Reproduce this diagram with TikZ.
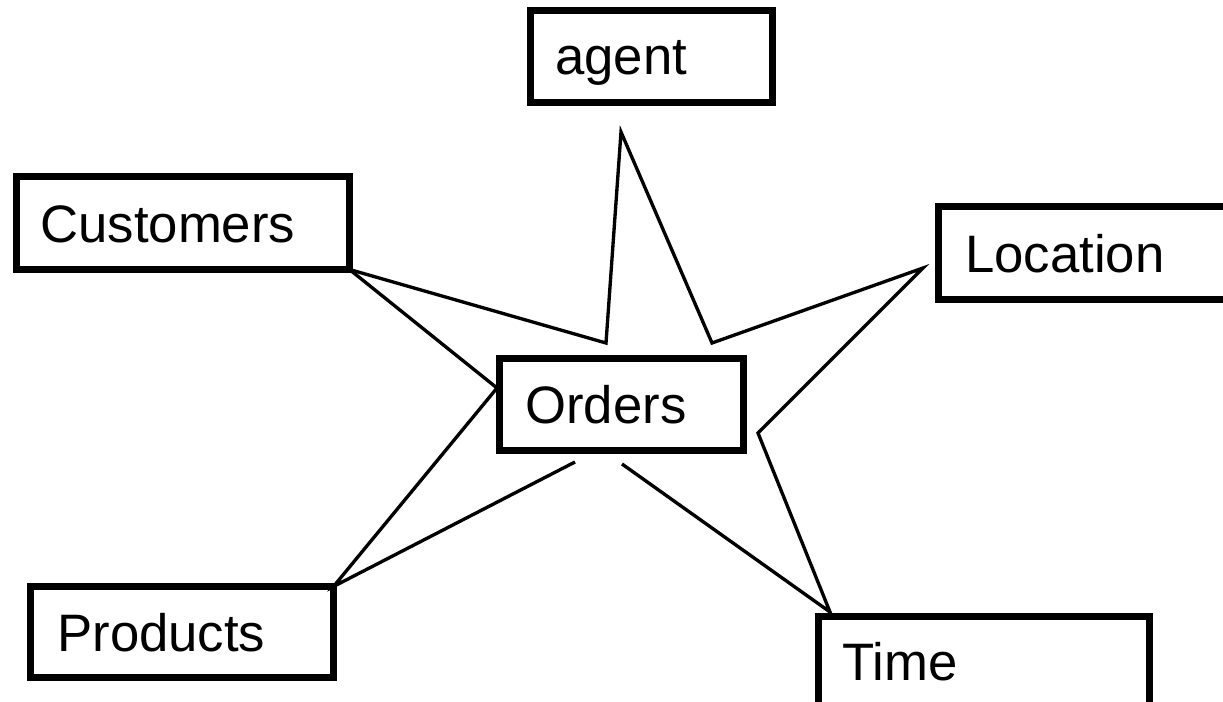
\documentclass[tikz,border=0pt]{standalone}
\usepackage{fontspec}
\setmainfont{Liberation Sans}
\usetikzlibrary{calc}
\begin{document}
\begin{tikzpicture}[x=0.02cm,y=-0.02cm,
  box/.style={draw=black,line width=3.9pt,rectangle,inner sep=0pt,outer sep=0pt},
  lbl/.style={anchor=base west,inner sep=0pt,font=\fontsize{30}{36}\selectfont},
  link/.style={draw=black,line width=1.9pt,line join=miter}]
  \useasboundingbox (0,0) rectangle (1223,702);
  \fill[white] (0,0) rectangle (1223,702);
  \begin{scope}
    \clip (0,0) rectangle (1223,702);
    % entity boxes
    \node[box,minimum width=4.84cm,minimum height=1.84cm] (agentbox) at (651.5,56.5) {};
    \node[box,minimum width=6.66cm,minimum height=1.86cm] (custbox) at (183,223) {};
    \node[box,minimum width=6.63cm,minimum height=1.86cm] (locbox) at (1104,253) {};
    \node[box,minimum width=4.88cm,minimum height=1.84cm] (ordbox) at (621.5,404.5) {};
    \node[box,minimum width=6.06cm,minimum height=1.82cm] (prodbox) at (182,632) {};
    \node[box,minimum width=6.62cm,minimum height=1.87cm] (timebox) at (984,663.5) {};
  \end{scope}
  % labels
  \node[lbl] (agent) at (555,75) {agent};
  \node[lbl] (cust) at (40,243) {Customers};
  \node[lbl] (loc) at (965,273) {Location};
  \node[lbl] (ord) at (525,423) {Orders};
  \node[lbl] (prod) at (57,651) {Products};
  \node[lbl] (time) at (842,680) {Time};
  % star points
  \coordinate (tip) at (621,132);
  \coordinate (inl) at (606,343);
  \coordinate (inr) at (712,343);
  \coordinate (locpt) at (923,268);
  \coordinate (rin) at (758,433);
  \coordinate (timept) at (830,612);
  \coordinate (botr) at (622,464);
  \coordinate (botl) at (575,462);
  \coordinate (ordl) at (497,388);
  % star outline
  \draw[link] (custbox.south east) -- (inl) -- (tip) -- (inr) -- (locpt) -- (rin) -- (timept) -- (botr);
  \draw[link] (botl) -- (prodbox.north east) -- (ordl) -- (custbox.south east);
\end{tikzpicture}
\end{document}
